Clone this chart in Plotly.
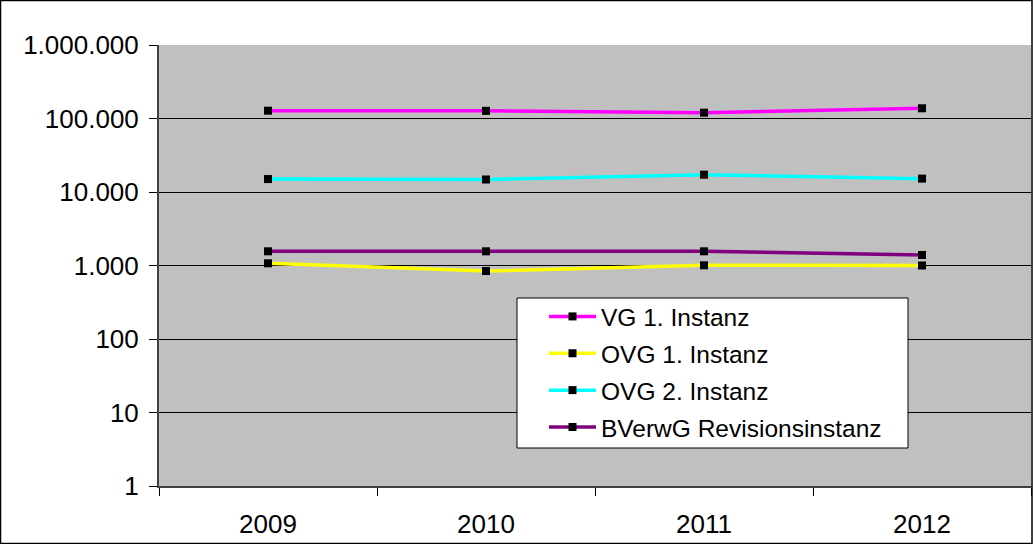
import plotly.graph_objects as go

years = ["2009", "2010", "2011", "2012"]
vg1 = [127700, 127000, 120000, 137700]
ovg1 = [1072, 841, 1007, 1000]
ovg2 = [15000, 14800, 17200, 15200]
bverwg = [1560, 1560, 1560, 1390]

series = [
    ("VG 1. Instanz", vg1, "#FF00FF"),
    ("OVG 1. Instanz", ovg1, "#FFFF00"),
    ("OVG 2. Instanz", ovg2, "#00FFFF"),
    ("BVerwG Revisionsinstanz", bverwg, "#800080"),
]

tick_vals = [1, 10, 100, 1000, 10000, 100000, 1000000]
tick_text = ["1", "10", "100", "1.000", "10.000", "100.000", "1.000.000"]

fig = go.Figure()
for i, (name, vals, col) in enumerate(series):
    fig.add_trace(go.Scatter(
        x=years, y=vals, name=name, mode="lines+markers",
        legendgroup=f"g{i}",
        line=dict(color=col, width=3.5),
        marker=dict(symbol="square", size=8, color="black"),
    ))

W, H = 1033, 544
ml, mr, mt, mb = 159, 2, 45, 58
pw, ph = W - ml - mr, H - mt - mb

# legend box (pixel placement of the legend frame)
lx0, lx1, ly0, ly1 = 517, 908, 298, 448

fig.update_layout(
    width=W, height=H,
    margin=dict(l=ml, r=mr, t=mt, b=mb),
    paper_bgcolor="white",
    plot_bgcolor="#C0C0C0",
    font=dict(family="Liberation Sans, Arial, sans-serif", size=24, color="black"),
    showlegend=True,
    legend=dict(
        x=(lx0 - ml) / pw, y=(H - mb - (ly0 - 4)) / ph, xanchor="left", yanchor="top",
        bgcolor="rgba(0,0,0,0)", borderwidth=0,
        font=dict(size=24.5, color="black"),
        itemwidth=47, indentation=27,
        traceorder="grouped", tracegroupgap=2,
    ),
    xaxis=dict(
        type="category", range=[-0.5, 3.5],
        tickson="boundaries", ticks="outside", ticklen=8, tickcolor="black",
        showgrid=False, showline=True, linecolor="#404040", linewidth=2,
        tickfont=dict(size=26), zeroline=False, ticklabelstandoff=14,
    ),
    yaxis=dict(
        type="log", range=[0, 6],
        tickvals=tick_vals, ticktext=tick_text,
        ticks="outside", ticklen=8, tickcolor="black",
        showgrid=True, gridcolor="black", gridwidth=1,
        showline=True, linecolor="#404040", linewidth=2,
        tickfont=dict(size=26), zeroline=False, ticklabelstandoff=5,
    ),
    shapes=[
        dict(
            type="rect", xref="paper", yref="paper",
            x0=-ml / pw + 0.5 / pw, x1=(W - ml - 1) / pw,
            y0=-mb / ph + 0.5 / ph, y1=(H - mb - 0.5) / ph,
            line=dict(color="black", width=1.5), layer="above",
        ),
        dict(
            type="rect", xref="paper", yref="paper",
            x0=(lx0 - ml) / pw, x1=(lx1 - ml) / pw,
            y0=(H - mb - ly1) / ph, y1=(H - mb - ly0) / ph,
            fillcolor="white", line=dict(color="black", width=1), layer="above",
        ),
    ],
)

fig.write_html("out.html", config={"displayModeBar": False},
               post_script="document.body.style.margin='0';")
